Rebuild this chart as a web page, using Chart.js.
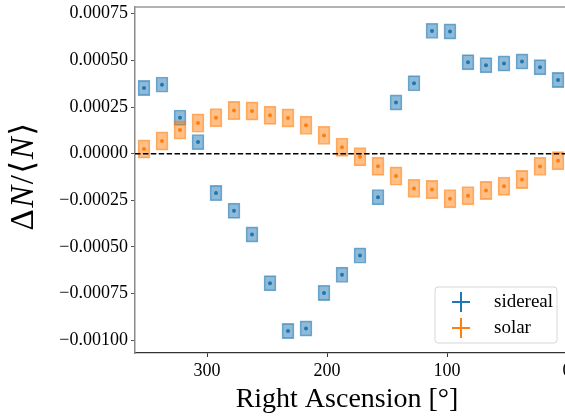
<!DOCTYPE html>
<html>
<head>
<meta charset="utf-8">
<script src="https://cdn.jsdelivr.net/npm/chart.js@4.4.1/dist/chart.umd.min.js"></script>
<style>
  html, body { margin: 0; padding: 0; background: #fff; overflow: hidden; }
  #wrap { width: 600px; height: 419px; }
</style>
</head>
<body>
<div id="wrap"><canvas id="c" width="600" height="419"></canvas></div>
<script>
// Right-ascension bin centres (degrees), 15° bins
const raBins = [352.5, 337.5, 322.5, 307.5, 292.5, 277.5, 262.5, 247.5, 232.5, 217.5, 202.5, 187.5,
                172.5, 157.5, 142.5, 127.5, 112.5, 97.5, 82.5, 67.5, 52.5, 37.5, 22.5, 7.5];

// Relative rate deviation, sidereal time frame
const sidereal = [0.000352, 0.000370, 0.000193, 0.000062, -0.000211, -0.000306, -0.000433, -0.000694,
                  -0.000950, -0.000937, -0.000746, -0.000649, -0.000546, -0.000233, 0.000274, 0.000377,
                  0.000658, 0.000655, 0.000490, 0.000474, 0.000483, 0.000494, 0.000463, 0.000395];
const siderealErr = [0.000041, 0.000041, 0.000041, 0.000041, 0.000041, 0.000041, 0.000041, 0.000041,
                     0.000041, 0.000041, 0.000041, 0.000041, 0.000041, 0.000041, 0.000041, 0.000041,
                     0.000041, 0.000041, 0.000041, 0.000041, 0.000041, 0.000041, 0.000041, 0.000041];

// Relative rate deviation, solar time frame
const solar = [0.000025, 0.000068, 0.000127, 0.000164, 0.000193, 0.000231, 0.000229, 0.000206,
               0.000191, 0.000152, 0.000098, 0.000035, -0.000016, -0.000067, -0.000120, -0.000186,
               -0.000192, -0.000241, -0.000225, -0.000197, -0.000174, -0.000138, -0.000068, -0.000038];
const solarErr = [0.000049, 0.000049, 0.000049, 0.000049, 0.000049, 0.000049, 0.000049, 0.000049,
                  0.000049, 0.000049, 0.000049, 0.000049, 0.000049, 0.000049, 0.000049, 0.000049,
                  0.000049, 0.000049, 0.000049, 0.000049, 0.000049, 0.000049, 0.000049, 0.000049];

const seriesLabels = ['sidereal', 'solar'];
const xTicks = [300, 200, 100, 0];
const yTicks = [-0.00100, -0.00075, -0.00050, -0.00025, 0.00000, 0.00025, 0.00050, 0.00075];

const SERIF = '"Liberation Serif", "DejaVu Serif", serif';
const C0 = '31,119,180';
const C1 = '255,127,14';

const boxes = (vals, errs) => raBins.map((x, i) => ({ x: x, y: [vals[i] - errs[i], vals[i] + errs[i]] }));
const points = (vals) => raBins.map((x, i) => ({ x: x, y: vals[i] }));

// zero reference line, top spine, axis titles and legend
const decorations = {
  id: 'decorations',
  afterDatasetsDraw(chart) {
    const { ctx, chartArea: a, scales } = chart;
    const y0 = scales.y.getPixelForValue(0);
    ctx.save();
    ctx.beginPath();
    ctx.rect(a.left, a.top, a.right - a.left, a.bottom - a.top);
    ctx.clip();
    ctx.setLineDash([5.5, 2.4]);
    ctx.strokeStyle = '#000';
    ctx.lineWidth = 1.5;
    ctx.beginPath();
    ctx.moveTo(a.left, y0);
    ctx.lineTo(a.right, y0);
    ctx.stroke();
    ctx.restore();
  },
  afterDraw(chart) {
    const { ctx, chartArea: a } = chart;
    ctx.save();
    // top spine
    ctx.strokeStyle = '#999';
    ctx.lineWidth = 1.5;
    ctx.beginPath();
    ctx.moveTo(a.left, a.top);
    ctx.lineTo(a.right, a.top);
    ctx.stroke();

    // x-axis title
    ctx.fillStyle = '#000';
    ctx.font = '28px ' + SERIF;
    ctx.textAlign = 'center';
    ctx.textBaseline = 'middle';
    ctx.fillText('Right Ascension [°]', (a.left + a.right) / 2 - 4, 400);

    // y-axis title: ΔN/⟨N⟩ with italic N
    const parts = [
      ['Δ', ''], ['N', 'italic '], ['/', ''], ['⟨', ''], ['N', 'italic '], ['⟩', '']
    ];
    const size = 33;
    let total = 0;
    const widths = parts.map(([t, st]) => {
      ctx.font = st + size + 'px ' + SERIF;
      const w = ctx.measureText(t).width + 1.5;
      total += w;
      return w;
    });
    ctx.translate(24, 176);
    ctx.rotate(-Math.PI / 2);
    ctx.textAlign = 'left';
    let px = -total / 2;
    parts.forEach(([t, st], i) => {
      ctx.font = st + size + 'px ' + SERIF;
      ctx.fillText(t, px, 0);
      px += widths[i];
    });
    ctx.setTransform(1, 0, 0, 1, 0, 0);

    // legend
    const lx = 435, ly = 287, lw = 122, lh = 56;
    ctx.beginPath();
    ctx.roundRect(lx, ly, lw, lh, 3);
    ctx.fillStyle = 'rgba(255,255,255,0.8)';
    ctx.fill();
    ctx.strokeStyle = '#d6d6d6';
    ctx.lineWidth = 1;
    ctx.stroke();
    const cols = [C0, C1];
    seriesLabels.forEach((lab, i) => {
      const cy = 302 + i * 26;
      ctx.strokeStyle = 'rgb(' + cols[i] + ')';
      ctx.lineWidth = 2;
      ctx.beginPath();
      ctx.moveTo(452, cy); ctx.lineTo(470, cy);
      ctx.moveTo(461, cy - 10); ctx.lineTo(461, cy + 10);
      ctx.stroke();
      ctx.fillStyle = '#000';
      ctx.font = '19px ' + SERIF;
      ctx.textAlign = 'left';
      ctx.textBaseline = 'middle';
      ctx.fillText(lab, 494, cy);
    });
    ctx.restore();
  }
};

new Chart(document.getElementById('c'), {
  type: 'scatter',
  data: {
    datasets: [
      { type: 'scatter', label: seriesLabels[1] + ' values', data: points(solar), order: 0,
        backgroundColor: 'rgb(' + C1 + ')', pointRadius: 2, pointBorderWidth: 0 },
      { type: 'scatter', label: seriesLabels[0] + ' values', data: points(sidereal), order: 1,
        backgroundColor: 'rgb(' + C0 + ')', pointRadius: 2, pointBorderWidth: 0 },
      { type: 'bar', label: seriesLabels[1], data: boxes(solar, solarErr), order: 2,
        backgroundColor: 'rgba(' + C1 + ',0.5)', borderColor: 'rgba(' + C1 + ',0.6)',
        borderWidth: 1, borderSkipped: false, barThickness: 12, grouped: false },
      { type: 'bar', label: seriesLabels[0], data: boxes(sidereal, siderealErr), order: 3,
        backgroundColor: 'rgba(' + C0 + ',0.5)', borderColor: 'rgba(' + C0 + ',0.6)',
        borderWidth: 1, borderSkipped: false, barThickness: 12, grouped: false }
    ]
  },
  options: {
    responsive: false,
    animation: false,
    devicePixelRatio: 1,
    layout: { autoPadding: false, padding: { top: 7, right: 33, left: 0, bottom: 0 } },
    plugins: { legend: { display: false }, tooltip: { enabled: false } },
    scales: {
      x: {
        type: 'linear', reverse: true, min: 0, max: 360, offset: false,
        afterBuildTicks: (s) => { s.ticks = xTicks.map(v => ({ value: v })); },
        afterFit: (s) => { s.height = 66; s.paddingLeft = 0; s.paddingRight = 0; },
        grid: { offset: false, drawOnChartArea: false, drawTicks: true, tickLength: 4, tickColor: '#333', tickWidth: 1 },
        border: { color: '#333', width: 1.3 },
        ticks: { color: '#000', padding: 3, maxRotation: 0, autoSkip: false,
                 font: { family: SERIF, size: 18 }, callback: (v) => String(v) }
      },
      y: {
        type: 'linear', min: -0.001068, max: 0.000786,
        afterBuildTicks: (s) => { s.ticks = yTicks.map(v => ({ value: v })); },
        afterFit: (s) => { s.width = 135; s.paddingTop = 0; s.paddingBottom = 0; },
        grid: { drawOnChartArea: false, drawTicks: true, tickLength: 4, tickColor: '#555', tickWidth: 1 },
        border: { color: '#8a8a8a', width: 1.5 },
        ticks: { color: '#000', padding: 3, autoSkip: false,
                 font: { family: SERIF, size: 18 },
                 callback: (v) => v.toFixed(5).replace('-', '\u2212') }
      }
    }
  },
  plugins: [decorations]
});
</script>
</body>
</html>
